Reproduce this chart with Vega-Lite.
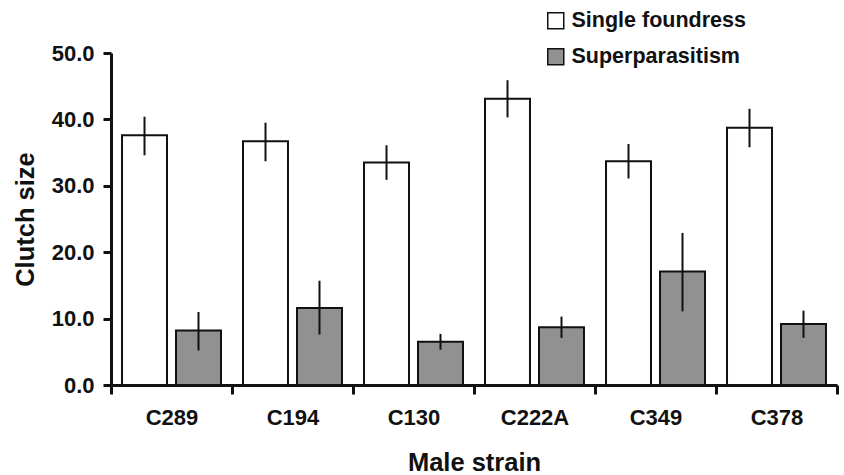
{
  "$schema": "https://vega.github.io/schema/vega-lite/v6.json",
  "width": 726,
  "height": 332,
  "autosize": {"type": "none"},
  "padding": {"left": 111, "top": 53, "right": 7, "bottom": 90},
  "background": "white",
  "config": {"view": {"stroke": null}, "font": "Liberation Sans"},
  "data": {
    "values": [
      {"strain": "C289", "group": "Single foundress", "mean": 37.6, "lo": 34.6, "hi": 40.4},
      {"strain": "C289", "group": "Superparasitism", "mean": 8.2, "lo": 5.2, "hi": 11.0},
      {"strain": "C194", "group": "Single foundress", "mean": 36.7, "lo": 33.7, "hi": 39.5},
      {"strain": "C194", "group": "Superparasitism", "mean": 11.6, "lo": 7.6, "hi": 15.7},
      {"strain": "C130", "group": "Single foundress", "mean": 33.5, "lo": 30.9, "hi": 36.1},
      {"strain": "C130", "group": "Superparasitism", "mean": 6.5, "lo": 5.3, "hi": 7.7},
      {"strain": "C222A", "group": "Single foundress", "mean": 43.1, "lo": 40.3, "hi": 45.9},
      {"strain": "C222A", "group": "Superparasitism", "mean": 8.7, "lo": 7.1, "hi": 10.3},
      {"strain": "C349", "group": "Single foundress", "mean": 33.7, "lo": 31.1, "hi": 36.3},
      {"strain": "C349", "group": "Superparasitism", "mean": 17.1, "lo": 11.1, "hi": 22.9},
      {"strain": "C378", "group": "Single foundress", "mean": 38.75, "lo": 35.8, "hi": 41.6},
      {"strain": "C378", "group": "Superparasitism", "mean": 9.2, "lo": 7.1, "hi": 11.2}
    ]
  },
  "encoding": {
    "x": {
      "field": "strain",
      "type": "nominal",
      "sort": ["C289", "C194", "C130", "C222A", "C349", "C378"],
      "scale": {"paddingInner": 0, "paddingOuter": 0},
      "axis": {
        "title": "Male strain",
        "labelAngle": 0,
        "labelFontSize": 22,
        "labelFontWeight": "bold",
        "labelColor": "#111",
        "labelPadding": 13,
        "tickBand": "extent",
        "tickSize": 9,
        "tickWidth": 3,
        "tickColor": "#111",
        "domainWidth": 3,
        "domainColor": "#111",
        "titleFontSize": 25.5,
        "titleFontWeight": "bold",
        "titleColor": "#111",
        "titleBaseline": "alphabetic",
        "titleY": 85
      }
    },
    "xOffset": {
      "field": "group",
      "sort": ["Single foundress", "Superparasitism"],
      "scale": {"paddingInner": 0.167, "paddingOuter": 0.204}
    }
  },
  "layer": [
    {
      "mark": {"type": "bar", "stroke": "#111", "strokeWidth": 2},
      "encoding": {
        "y": {
          "field": "mean",
          "type": "quantitative",
          "scale": {"domain": [0, 50]},
          "axis": {
            "title": "Clutch size",
            "values": [0, 10, 20, 30, 40, 50],
            "format": ".1f",
            "grid": false,
            "labelFontSize": 22,
            "labelFontWeight": "bold",
            "labelColor": "#111",
            "labelPadding": 9,
            "tickSize": 8,
            "tickWidth": 3,
            "tickColor": "#111",
            "domainWidth": 3,
            "domainColor": "#111",
            "titleFontSize": 25.5,
            "titleFontWeight": "bold",
            "titleColor": "#111",
            "titleBaseline": "alphabetic",
            "titleAngle": -90,
            "titleX": -78,
            "titleY": 166,
            "titleAlign": "center"
          }
        },
        "fill": {
          "field": "group",
          "type": "nominal",
          "scale": {"domain": ["Single foundress", "Superparasitism"], "range": ["white", "#919191"]},
          "legend": {
            "title": null,
            "orient": "none",
            "legendX": 434,
            "legendY": -43,
            "padding": 0,
            "labelFontSize": 21.5,
            "labelFontWeight": "bold",
            "labelColor": "#111",
            "labelOffset": 5,
            "labelLimit": 400,
            "rowPadding": 13,
            "symbolType": "square",
            "symbolSize": 256,
            "symbolStrokeColor": "#111",
            "symbolStrokeWidth": 1.5
          }
        }
      }
    },
    {
      "mark": {"type": "rule", "strokeWidth": 2, "color": "#111"},
      "encoding": {
        "y": {"field": "lo", "type": "quantitative"},
        "y2": {"field": "hi"}
      }
    }
  ]
}
